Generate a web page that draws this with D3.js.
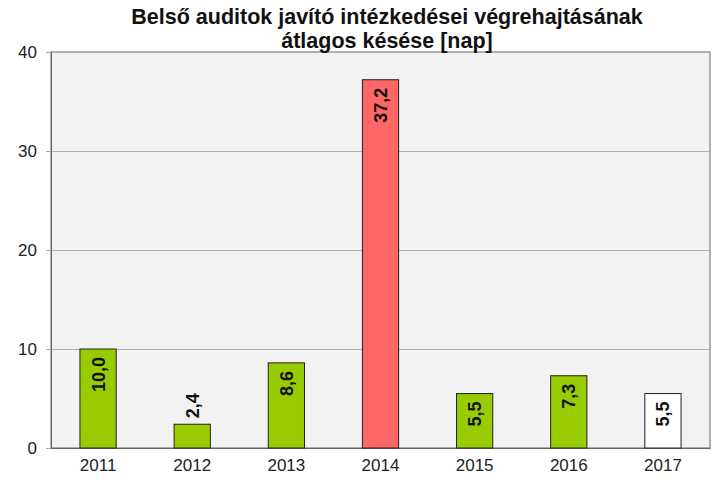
<!DOCTYPE html>
<html><head><meta charset="utf-8">
<script src="https://cdn.jsdelivr.net/npm/d3@7"></script>
<style>body{margin:0;background:#fff}svg{display:block;font-family:"Liberation Sans",Arial,sans-serif}</style>
</head><body><svg id="c" width="724" height="493"></svg>
<script>
const years = ["2011","2012","2013","2014","2015","2016","2017"];
const values = [10.0, 2.4, 8.6, 37.2, 5.5, 7.3, 5.5];
const colors = ["#99cc00","#99cc00","#99cc00","#ff6666","#99cc00","#99cc00","#ffffff"];
const labelOutside = [false,true,false,false,false,false,false];
const yTicks = [0,10,20,30,40];
const titleLines = ["Belső auditok javító intézkedései végrehajtásának","átlagos késése [nap]"];

const svg = d3.select("#c");
const m = {l:51, r:710, t:52, b:448};
const x = d3.scaleBand().domain(years).range([m.l, m.r]).paddingInner(0.615).paddingOuter(0.3075);
const y = d3.scaleLinear().domain([0,40]).range([m.b, m.t]);

svg.append("rect").attr("x",m.l).attr("y",m.t).attr("width",m.r-m.l).attr("height",m.b-m.t)
  .attr("fill","#f2f2f2").attr("stroke","#666").attr("stroke-width",1);

svg.append("g").selectAll("line").data(yTicks.filter(d=>d>0&&d<40)).join("line")
  .attr("x1",m.l).attr("x2",m.r).attr("y1",d=>Math.round(y(d))+0.5).attr("y2",d=>Math.round(y(d))+0.5)
  .attr("stroke","#b0b0b0").attr("stroke-width",1);

const yAxis = svg.append("g").attr("transform",`translate(${m.l},0)`)
  .call(d3.axisLeft(y).tickValues(yTicks).tickSize(5).tickPadding(9));
yAxis.select(".domain").attr("stroke","#666");
yAxis.selectAll(".tick line").attr("stroke","#aaa");
yAxis.selectAll("text").attr("font-size",17).attr("fill","#222").attr("font-family","Liberation Sans, Arial, sans-serif");

const xAxis = svg.append("g").attr("transform",`translate(0,${m.b})`)
  .call(d3.axisBottom(x).tickSize(0).tickPadding(11));
xAxis.select(".domain").attr("stroke","#666");
xAxis.selectAll("text").attr("font-size",17).attr("fill","#222").attr("font-family","Liberation Sans, Arial, sans-serif");

svg.append("g").selectAll("rect").data(years).join("rect")
  .attr("x",d=>x(d)).attr("width",x.bandwidth())
  .attr("y",(d,i)=>y(values[i])).attr("height",(d,i)=>y(0)-y(values[i]))
  .attr("fill",(d,i)=>colors[i]).attr("stroke","#222").attr("stroke-width",1);

svg.append("g").selectAll("text").data(years).join("text")
  .attr("transform",(d,i)=>{
    const cx = x(d)+x.bandwidth()/2;
    const top = y(values[i]);
    const yy = labelOutside[i] ? top-6 : top+8;
    return `translate(${cx+6.5},${yy}) rotate(-90)`;
  })
  .attr("text-anchor",(d,i)=>labelOutside[i]?"start":"end")
  .attr("font-size",18).attr("font-weight","bold").attr("fill","#111")
  .text((d,i)=>values[i].toFixed(1).replace(".",","));

svg.append("g").selectAll("text").data(titleLines).join("text")
  .attr("x",387).attr("y",(d,i)=>24+i*24).attr("text-anchor","middle")
  .attr("font-size",21.5).attr("font-weight","bold").attr("fill","#111").text(d=>d);
</script></body></html>
